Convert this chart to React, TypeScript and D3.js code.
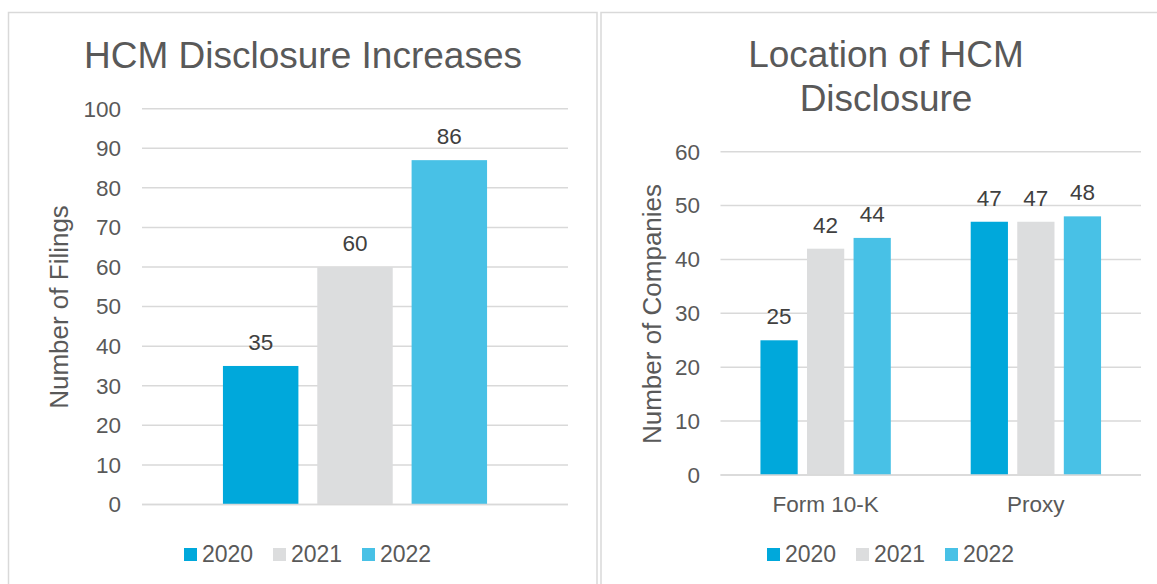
import React from "react";
import * as d3 from "d3";

const years = ["2020", "2021", "2022"];
const yearColors = ["#00A8DB", "#DCDDDE", "#48C1E6"];

// Left chart: HCM Disclosure Increases
const filingCategories = [""];
const filingValues = [35, 60, 87];
const filingLabels = ["35", "60", "86"];
const filingTicks = [0, 10, 20, 30, 40, 50, 60, 70, 80, 90, 100];

// Right chart: Location of HCM Disclosure
const locationCategories = ["Form 10-K", "Proxy"];
const location2020 = [25, 47];
const location2021 = [42, 47];
const location2022 = [44, 48];
const locationTicks = [0, 10, 20, 30, 40, 50, 60];

const TEXT = "#595959";
const LABEL = "#404040";
const GRID = "#D9D9D9";
const FONT = "'Liberation Sans', Arial, sans-serif";

type Panel = {
  cats: string[];
  series: number[][]; // series[yearIndex][catIndex]
  labels: string[][];
  ticks: number[];
  yMax: number;
  x0: number;
  x1: number;
  yTop: number;
  yBottom: number;
  tickX: number;
  axisTitle: string;
  axisTitleX: number;
  axisTitleY: number;
  legendX: number;
};

function BarPanel(p: Panel) {
  const y = d3.scaleLinear().domain([0, p.yMax]).range([p.yBottom, p.yTop]);
  const xc = d3.scaleBand<string>().domain(p.cats).range([p.x0, p.x1]).paddingInner(0.38).paddingOuter(0.19);
  const xs = d3.scaleBand<string>().domain(years).range([0, xc.bandwidth()]).paddingInner(0.2);
  return (
    <g>
      {p.ticks.map((t) => (
        <g key={t}>
          <line x1={p.x0} x2={p.x1} y1={y(t)} y2={y(t)} stroke={GRID} strokeWidth={1.5} />
          <text x={p.tickX} y={y(t)} dy="0.35em" textAnchor="end" fontSize={22.5} fill={TEXT}>
            {t}
          </text>
        </g>
      ))}
      {p.cats.map((c, ci) => (
        <g key={c + ci}>
          {years.map((yr, si) => {
            const v = p.series[si][ci];
            const bx = (xc(c) ?? 0) + (xs(yr) ?? 0);
            return (
              <g key={yr}>
                <rect x={bx} y={y(v)} width={xs.bandwidth()} height={y(0) - y(v)} fill={yearColors[si]} />
                <text x={bx + xs.bandwidth() / 2} y={y(v) - 16} textAnchor="middle" fontSize={22.5} fill={LABEL}>
                  {p.labels[si][ci]}
                </text>
              </g>
            );
          })}
          {c && (
            <text x={(xc(c) ?? 0) + xc.bandwidth() / 2} y={p.yBottom + 37} textAnchor="middle" fontSize={22.5} fill={TEXT}>
              {c}
            </text>
          )}
        </g>
      ))}
      <line x1={p.x0} x2={p.x1} y1={y(0)} y2={y(0)} stroke={GRID} strokeWidth={1.5} />
      <text
        transform={`translate(${p.axisTitleX},${p.axisTitleY}) rotate(-90)`}
        textAnchor="middle"
        fontSize={26}
        fill={TEXT}
      >
        {p.axisTitle}
      </text>
      {years.map((yr, i) => (
        <g key={yr} transform={`translate(${p.legendX + i * 89},0)`}>
          <rect x={0} y={548} width={13} height={13} fill={yearColors[i]} />
          <text x={18} y={562} fontSize={23} fill={TEXT}>
            {yr}
          </text>
        </g>
      ))}
    </g>
  );
}

export default function App() {
  const W = 1157;
  const H = 584;
  return (
    <svg
      width={W}
      height={H}
      style={{ position: "absolute", left: 0, top: 0, display: "block", background: "#fff" }}
      fontFamily={FONT}
    >
      <rect x={0} y={0} width={W} height={H} fill="#fff" />
      <rect x={8.5} y={12.5} width={588.5} height={600} fill="none" stroke={GRID} strokeWidth={1.5} />
      <rect x={601} y={12.5} width={600} height={600} fill="none" stroke={GRID} strokeWidth={1.5} />

      <text x={303} y={68} textAnchor="middle" fontSize={37} fill={TEXT}>
        HCM Disclosure Increases
      </text>
      <text x={886} y={67} textAnchor="middle" fontSize={37} fill={TEXT}>
        Location of HCM
      </text>
      <text x={886} y={111} textAnchor="middle" fontSize={37} fill={TEXT}>
        Disclosure
      </text>

      <BarPanel
        cats={filingCategories}
        series={filingValues.map((v) => [v])}
        labels={filingLabels.map((l) => [l])}
        ticks={filingTicks}
        yMax={100}
        x0={142}
        x1={568}
        yTop={108.7}
        yBottom={504.5}
        tickX={121}
        axisTitle="Number of Filings"
        axisTitleX={68}
        axisTitleY={307}
        legendX={184}
      />
      <BarPanel
        cats={locationCategories}
        series={[location2020, location2021, location2022]}
        labels={[location2020, location2021, location2022].map((s) => s.map(String))}
        ticks={locationTicks}
        yMax={60}
        x0={720.5}
        x1={1141}
        yTop={151.7}
        yBottom={475}
        tickX={700}
        axisTitle="Number of Companies"
        axisTitleX={661}
        axisTitleY={314}
        legendX={767}
      />
    </svg>
  );
}
